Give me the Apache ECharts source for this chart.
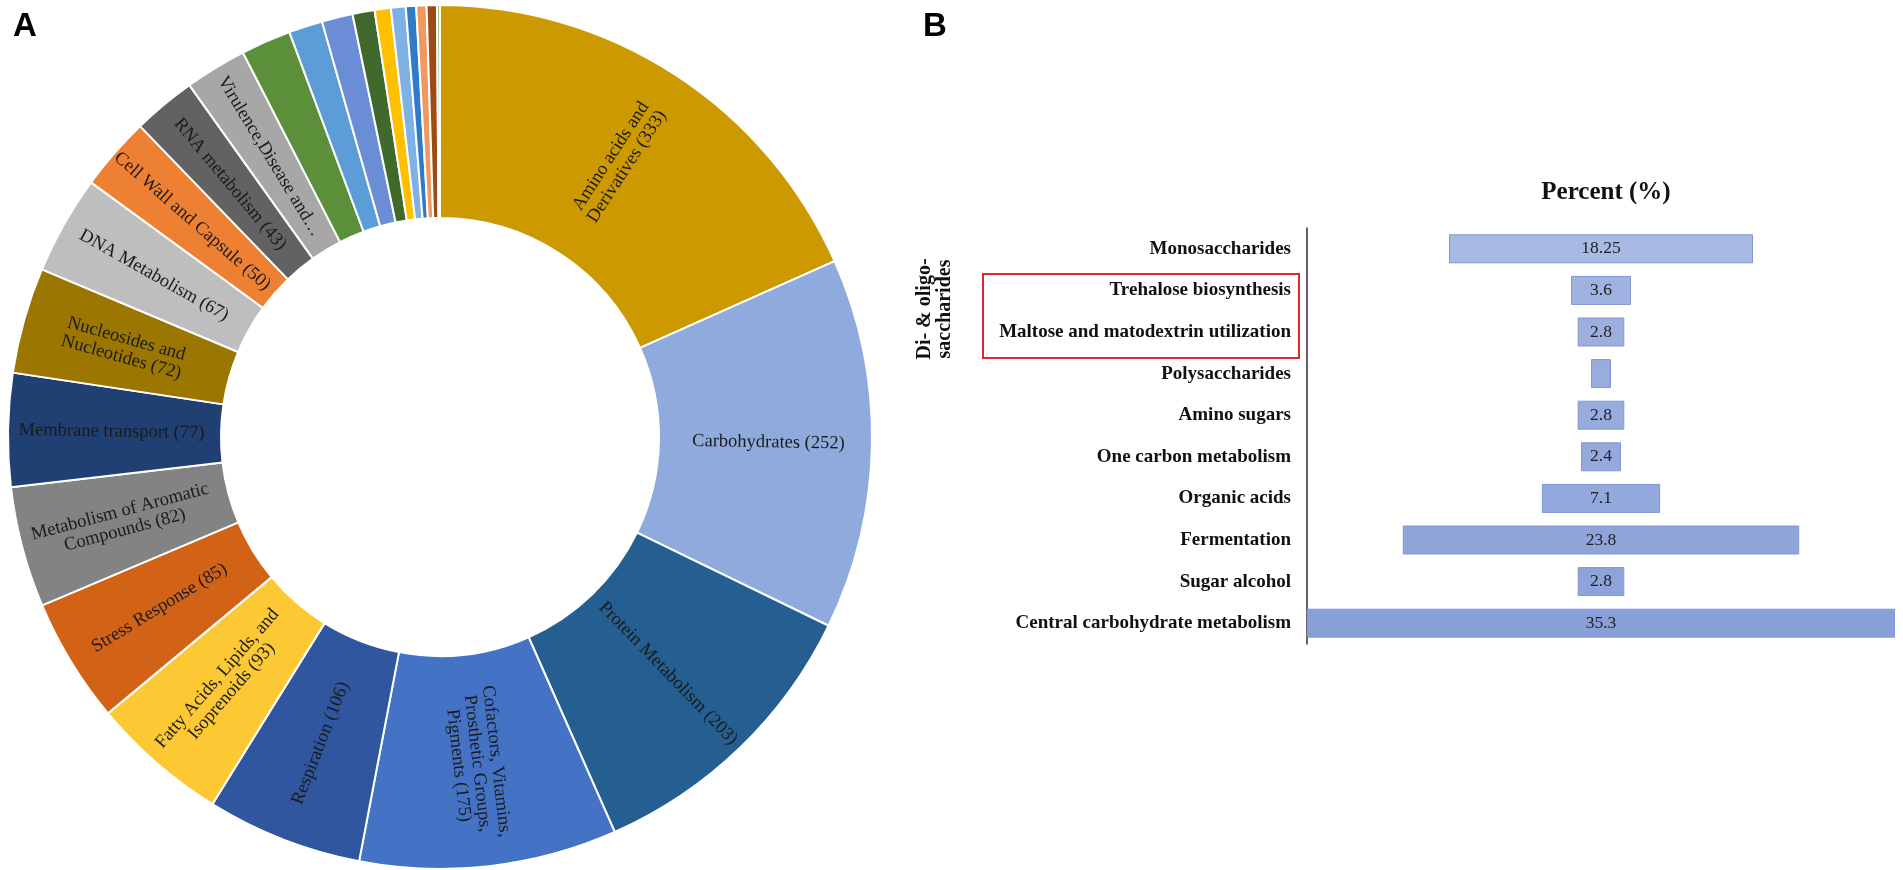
<!DOCTYPE html>
<html>
<head>
<meta charset="utf-8">
<script src="https://cdn.jsdelivr.net/npm/echarts@6/dist/echarts.min.js"></script>
<style>
html,body{margin:0;padding:0;background:#fff;}
#chart{width:1903px;height:870px;}
</style>
</head>
<body>
<div id="chart"></div>
<script>
// ---- Panel A: subsystem categories (donut) ----
const pieNames = [
  'Amino acids and Derivatives','Carbohydrates','Protein Metabolism',
  'Cofactors, Vitamins, Prosthetic Groups, Pigments','Respiration',
  'Fatty Acids, Lipids, and Isoprenoids','Stress Response',
  'Metabolism of Aromatic Compounds','Membrane transport',
  'Nucleosides and Nucleotides','DNA Metabolism','Cell Wall and Capsule',
  'RNA metabolism','Virulence,Disease and Defense',
  'Category 15','Category 16','Category 17','Category 18','Category 19',
  'Category 20','Category 21','Category 22','Category 23','Category 24'
];
const pieValues = [333,252,203,175,106,93,85,82,77,72,67,50,43,42,34,23,21,15,11,10,7,7,7,2];
const pieLabelTemplates = [
  'Amino acids and\nDerivatives ({c})','Carbohydrates ({c})','Protein Metabolism ({c})',
  'Cofactors, Vitamins,\nProsthetic Groups,\nPigments ({c})','Respiration ({c})',
  'Fatty Acids, Lipids, and\nIsoprenoids ({c})','Stress Response ({c})',
  'Metabolism of Aromatic\nCompounds ({c})','Membrane transport ({c})',
  'Nucleosides and\nNucleotides ({c})','DNA Metabolism ({c})','Cell Wall and Capsule ({c})',
  'RNA metabolism ({c})','Virulence,Disease and…',
  '','','','','','','','','',''
];
const pieColors = [
  '#CC9900','#8FAADC','#255E91','#4472C4','#30569F','#FCC935','#D26215','#838383',
  '#203F72','#9B7600','#BEBEBE','#EE8033','#626262','#A7A7A7','#5B8F3A','#5C9DD8',
  '#6B8DD6','#41692B','#FFC000','#80B1E4','#2F7BC9','#EF9860','#9E4A14','#8DC26B'
];

// ---- Panel B: carbohydrate subsystems (percent) ----
const barCategories = [
  'Monosaccharides','Trehalose biosynthesis','Maltose and matodextrin utilization',
  'Polysaccharides','Amino sugars','One carbon metabolism','Organic acids',
  'Fermentation','Sugar alcohol','Central carbohydrate metabolism'
];
const barValues = [18.25,3.6,2.8,1.2,2.8,2.4,7.1,23.8,2.8,35.3];
const barShowLabel = [true,true,true,false,true,true,true,true,true,true];
const barColors = ['#A8B9E3','#A0B2E0','#9CAFDF','#98ACDD','#97ABDD','#95A9DC','#93A8DC','#8FA5DA','#8DA3D9','#88A0D7'];

const maxBar = Math.max.apply(null, barValues);

const pieData = pieValues.map((v, i) => ({
  name: pieNames[i],
  value: v,
  itemStyle: { color: pieColors[i] },
  label: { show: pieLabelTemplates[i] !== '', formatter: pieLabelTemplates[i] || '' }
}));

const chart = echarts.init(document.getElementById('chart'), null, {renderer: 'canvas'});
chart.setOption({
  animation: false,
  backgroundColor: '#ffffff',
  title: [
    { text: 'A', left: 8, top: 5, textStyle: { fontFamily: 'Liberation Sans', fontWeight: 'bold', fontSize: 33, color: '#000' } },
    { text: 'B', left: 918, top: 5, textStyle: { fontFamily: 'Liberation Sans', fontWeight: 'bold', fontSize: 33, color: '#000' } },
    { text: 'Percent (%)', left: 1601, top: 175, textAlign: 'center',
      textStyle: { fontFamily: 'Liberation Serif', fontWeight: 'bold', fontSize: 25, color: '#111' } }
  ],
  grid: { left: 1307, top: 228, width: 588, height: 416, containLabel: false },
  xAxis: { type: 'value', min: 0, max: maxBar, show: false },
  yAxis: {
    type: 'category', data: barCategories, inverse: true,
    axisLine: { show: true, lineStyle: { color: '#333', width: 1.5 } },
    axisTick: { show: false },
    splitLine: { show: false },
    axisLabel: { fontFamily: 'Liberation Serif', fontWeight: 'bold', fontSize: 19, color: '#111', margin: 16 }
  },
  graphic: [
    { type: 'rect', shape: { x: 983, y: 274, width: 316, height: 84 },
      style: { fill: null, stroke: '#E3262B', lineWidth: 2 } },
    { type: 'text', x: 935, y: 309, rotation: Math.PI / 2,
      style: { text: 'Di- & oligo-\nsaccharides', fontFamily: 'Liberation Serif', fontWeight: 'bold',
               fontSize: 20, lineHeight: 20, fill: '#111', textAlign: 'center', textVerticalAlign: 'middle' } }
  ],
  series: [
    {
      type: 'pie',
      center: [440, 437],
      radius: [219, 432],
      startAngle: 90,
      clockwise: true,
      avoidLabelOverlap: false,
      silent: true,
      itemStyle: { borderColor: '#ffffff', borderWidth: 2 },
      label: { show: true, position: 'inside', rotate: 'radial', fontFamily: 'Liberation Serif',
               fontSize: 18.5, lineHeight: 19, color: '#1b1b1b' },
      labelLine: { show: false },
      data: pieData
    },
    {
      type: 'bar', stack: 'funnel', barWidth: 29, silent: true,
      itemStyle: { color: 'rgba(0,0,0,0)' },
      data: barValues.map(v => (maxBar - v) / 2)
    },
    {
      type: 'bar', stack: 'funnel', barWidth: 29, silent: true,
      data: barValues.map((v, i) => ({
        value: v,
        itemStyle: { color: barColors[i], borderColor: '#8198D2', borderWidth: 1 },
        label: { show: barShowLabel[i] }
      })),
      label: { show: true, position: 'inside', formatter: '{c}', fontFamily: 'Liberation Serif',
               fontSize: 17.5, color: '#222' }
    }
  ]
});
</script>
</body>
</html>
